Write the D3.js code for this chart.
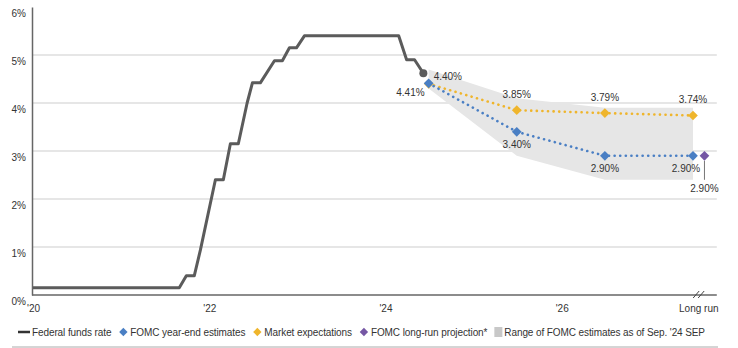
<!DOCTYPE html>
<html>
<head>
<meta charset="utf-8">
<script src="https://cdn.jsdelivr.net/npm/d3@7"></script>
<style>
	body { margin: 0; background: #fff; }
	svg { display: block; font-family: 'Liberation Sans', Arial, sans-serif; }
	.lbl { font-size: 10px; fill: #333; }
</style>
</head>
<body>
<svg id="chart" width="738" height="348"></svg>
<script>
// federal funds rate, x in fractional years
const fedT = [2020, 2021.66, 2021.74, 2021.83, 2021.9, 2022.07, 2022.16, 2022.24, 2022.33, 2022.43, 2022.49, 2022.58, 2022.74, 2022.83, 2022.91, 2022.99, 2023.08, 2024.15, 2024.24, 2024.33, 2024.43]
const fedRate = [0.15, 0.15, 0.4, 0.4, 0.94, 2.4, 2.4, 3.15, 3.15, 4.0, 4.42, 4.42, 4.88, 4.88, 5.15, 5.15, 5.4, 5.4, 4.9, 4.9, 4.62]

// projections: '24, '25, '26, long run
const projT = [2024.49, 2025.49, 2026.49, 2027.49]
const fomcEst = [4.41, 3.4, 2.9, 2.9]
const marketExp = [4.4, 3.85, 3.79, 3.74]
const rangeHigh = [4.7, 4.1, 3.9, 3.9]
const rangeLow = [4.3, 2.9, 2.4, 2.4]
const longRunT = 2027.62
const longRunProj = 2.9

const yTicks = [0, 1, 2, 3, 4, 5, 6]
const xTicks = [2020, 2022, 2024, 2026, 2027.55]
const xTickLabels = ["'20", "'22", "'24", "'26", 'Long run']

const colors = { fed: '#5b5b5b', blue: '#4a7fc4', orange: '#efb52c', purple: '#7557a4', band: '#e6e6e6' }

const svg = d3.select('#chart')
const x = d3.scaleLinear().domain([2020, 2027.49]).range([33, 693])
const y = d3.scaleLinear().domain([0, 6]).range([295, 7])
const xEnd = x(2027.76)

// gridlines
svg.append('g')
	.selectAll('line')
	.data(yTicks.filter(d => d > 0 && d < 6))
	.enter()
	.append('line')
	.attr('x1', 32)
	.attr('x2', xEnd)
	.attr('y1', d => y(d))
	.attr('y2', d => y(d))
	.attr('stroke', '#dedede')
	.attr('stroke-width', 1.5)

// y axis
const yAxis = svg.append('g')
	.attr('transform', 'translate(32,0)')
	.call(d3.axisLeft(y).tickValues(yTicks).tickFormat(d => d + '%').tickSize(0).tickPadding(6))
yAxis.select('.domain').attr('stroke', '#666').attr('stroke-width', 1.5)
yAxis.selectAll('text')
	.attr('dy', '0.9em')
	.style('font-family', 'Liberation Sans, Arial, sans-serif')
	.style('font-size', '10px')
	.attr('fill', '#333')

// x axis
const xAxis = svg.append('g')
	.attr('transform', 'translate(0,295)')
	.call(d3.axisBottom(x).tickValues(xTicks).tickFormat((d, i) => xTickLabels[i]).tickSize(0).tickPadding(10))
xAxis.select('.domain').remove()
xAxis.selectAll('text')
	.style('font-family', 'Liberation Sans, Arial, sans-serif')
	.style('font-size', '10px')
	.attr('fill', '#333')
svg.append('line')
	.attr('x1', 32).attr('x2', xEnd)
	.attr('y1', y(0)).attr('y2', y(0))
	.attr('stroke', '#666').attr('stroke-width', 1.5)

// axis break
const breakX = x(2027.56)
;[-3, 2].forEach(off => {
	svg.append('line')
		.attr('x1', breakX + off - 3).attr('y1', y(0) + 3)
		.attr('x2', breakX + off + 3).attr('y2', y(0) - 4)
		.attr('stroke', '#444').attr('stroke-width', 1)
})

// range band
const band = projT.map((t, i) => [t, rangeHigh[i], rangeLow[i]])
svg.append('path')
	.datum(band)
	.attr('fill', colors.band)
	.attr('d', d3.area().x(d => x(d[0])).y0(d => y(d[2])).y1(d => y(d[1])))

// fed funds line
const fed = fedT.map((t, i) => [t, fedRate[i]])
svg.append('path')
	.datum(fed)
	.attr('fill', 'none')
	.attr('stroke', colors.fed)
	.attr('stroke-width', 3)
	.attr('stroke-linejoin', 'round')
	.attr('d', d3.line().x(d => x(d[0])).y(d => y(d[1])))
const last = fed[fed.length - 1]
svg.append('circle')
	.attr('cx', x(last[0])).attr('cy', y(last[1])).attr('r', 4)
	.attr('fill', colors.fed)

// dotted projection lines
function dotted(values, color) {
	svg.append('path')
		.datum(projT.map((t, i) => [t, values[i]]))
		.attr('fill', 'none')
		.attr('stroke', color)
		.attr('stroke-width', 2.6)
		.attr('stroke-linecap', 'round')
		.attr('stroke-dasharray', '0.1 5.5')
		.attr('d', d3.line().x(d => x(d[0])).y(d => y(d[1])))
}
dotted(marketExp, colors.orange)
dotted(fomcEst, colors.blue)

const diamond = d3.symbol().type(d3.symbolDiamond2).size(60)
function diamonds(ts, values, color) {
	svg.append('g')
		.selectAll('path')
		.data(ts.map((t, i) => [t, values[i]]))
		.enter()
		.append('path')
		.attr('d', diamond)
		.attr('transform', d => `translate(${x(d[0])},${y(d[1])})`)
		.attr('fill', color)
}
diamonds(projT, marketExp, colors.orange)
diamonds(projT, fomcEst, colors.blue)

// long-run projection with leader line
svg.append('line')
	.attr('x1', x(longRunT)).attr('x2', x(longRunT))
	.attr('y1', y(longRunProj) + 5).attr('y2', y(longRunProj) + 24)
	.attr('stroke', '#777').attr('stroke-width', 1)
diamonds([longRunT], [longRunProj], colors.purple)

// value labels
const fmt = v => v.toFixed(2) + '%'
function label(t, v, text, dx, dy, anchor) {
	svg.append('text')
		.attr('class', 'lbl')
		.attr('x', x(t) + dx)
		.attr('y', y(v) + dy)
		.attr('text-anchor', anchor)
		.text(text)
}
label(projT[0], marketExp[0], fmt(marketExp[0]), 5, -4, 'start')
label(projT[0], fomcEst[0], fmt(fomcEst[0]), -4, 13, 'end')
for (let i = 1; i < projT.length; i++) {
	label(projT[i], marketExp[i], fmt(marketExp[i]), 0, -12, 'middle')
	label(projT[i], fomcEst[i], fmt(fomcEst[i]), i === 3 ? -7 : 0, 16, 'middle')
}
label(longRunT, longRunProj, fmt(longRunProj), 0, 36, 'middle')

// legend
const legendItems = [
	{ name: 'Federal funds rate', type: 'line', color: '#333' },
	{ name: 'FOMC year-end estimates', type: 'diamond', color: colors.blue },
	{ name: 'Market expectations', type: 'diamond', color: colors.orange },
	{ name: 'FOMC long-run projection*', type: 'diamond', color: colors.purple },
	{ name: "Range of FOMC estimates as of Sep. '24 SEP", type: 'square', color: '#c8c8c8' }
]
const legendY = 332
let lx = 18
legendItems.forEach(item => {
	const g = svg.append('g').attr('transform', `translate(${lx},${legendY})`)
	let sw
	if (item.type === 'line') {
		g.append('line').attr('x1', 0).attr('x2', 12).attr('y1', 0).attr('y2', 0)
			.attr('stroke', item.color).attr('stroke-width', 2.5)
		sw = 14
	} else if (item.type === 'diamond') {
		g.append('path').attr('d', d3.symbol().type(d3.symbolDiamond2).size(45))
			.attr('transform', 'translate(5,0)').attr('fill', item.color)
		sw = 12
	} else {
		g.append('rect').attr('x', 0).attr('y', -5).attr('width', 8).attr('height', 10)
			.attr('fill', item.color)
		sw = 10
	}
	const t = g.append('text')
		.attr('class', 'lbl')
		.attr('x', sw)
		.attr('dy', '0.35em')
		.style('letter-spacing', '-0.1px')
		.text(item.name)
	lx += sw + t.node().getComputedTextLength() + 7
})

svg.append('line')
	.attr('x1', 12).attr('x2', 718)
	.attr('y1', 347).attr('y2', 347)
	.attr('stroke', '#aaa').attr('stroke-width', 1)
</script>
</body>
</html>
